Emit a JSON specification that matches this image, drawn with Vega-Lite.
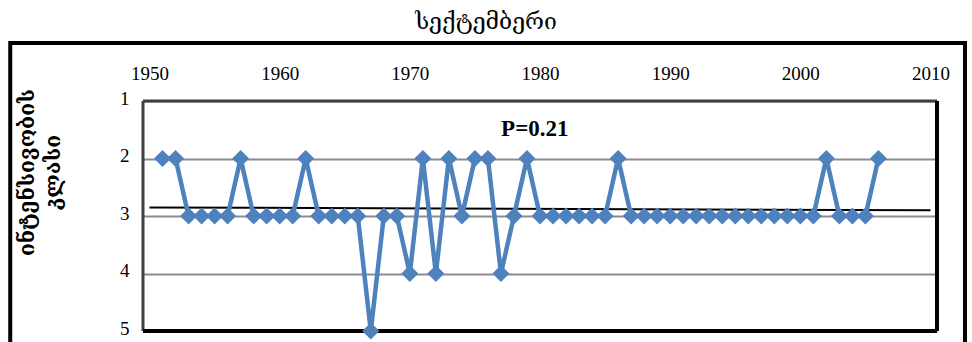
{
  "$schema": "https://vega.github.io/schema/vega-lite/v6.json",
  "width": 794,
  "height": 230,
  "autosize": {"type": "none"},
  "padding": {"left": 143, "top": 101, "right": 35, "bottom": 11},
  "background": "white",
  "title": {
    "text": "სექტემბერი",
    "font": "DejaVu Serif",
    "fontSize": 23,
    "fontWeight": "normal",
    "color": "black",
    "anchor": "middle",
    "frame": "group",
    "baseline": "alphabetic",
    "offset": 12,
    "dy": 23,
    "dx": -54
  },
  "config": {
    "view": {"stroke": null},
    "axis": {"labelColor": "black", "labelFont": "Liberation Serif", "labelFontSize": 19, "ticks": false}
  },
  "datasets": {
    "september": [
      {"year": 1951, "val": 2}, {"year": 1952, "val": 2}, {"year": 1953, "val": 3}, {"year": 1954, "val": 3},
      {"year": 1955, "val": 3}, {"year": 1956, "val": 3}, {"year": 1957, "val": 2}, {"year": 1958, "val": 3},
      {"year": 1959, "val": 3}, {"year": 1960, "val": 3}, {"year": 1961, "val": 3}, {"year": 1962, "val": 2},
      {"year": 1963, "val": 3}, {"year": 1964, "val": 3}, {"year": 1965, "val": 3}, {"year": 1966, "val": 3},
      {"year": 1967, "val": 5}, {"year": 1968, "val": 3}, {"year": 1969, "val": 3}, {"year": 1970, "val": 4},
      {"year": 1971, "val": 2}, {"year": 1972, "val": 4}, {"year": 1973, "val": 2}, {"year": 1974, "val": 3},
      {"year": 1975, "val": 2}, {"year": 1976, "val": 2}, {"year": 1977, "val": 4}, {"year": 1978, "val": 3},
      {"year": 1979, "val": 2}, {"year": 1980, "val": 3}, {"year": 1981, "val": 3}, {"year": 1982, "val": 3},
      {"year": 1983, "val": 3}, {"year": 1984, "val": 3}, {"year": 1985, "val": 3}, {"year": 1986, "val": 2},
      {"year": 1987, "val": 3}, {"year": 1988, "val": 3}, {"year": 1989, "val": 3}, {"year": 1990, "val": 3},
      {"year": 1991, "val": 3}, {"year": 1992, "val": 3}, {"year": 1993, "val": 3}, {"year": 1994, "val": 3},
      {"year": 1995, "val": 3}, {"year": 1996, "val": 3}, {"year": 1997, "val": 3}, {"year": 1998, "val": 3},
      {"year": 1999, "val": 3}, {"year": 2000, "val": 3}, {"year": 2001, "val": 3}, {"year": 2002, "val": 2},
      {"year": 2003, "val": 3}, {"year": 2004, "val": 3}, {"year": 2005, "val": 3}, {"year": 2006, "val": 2}
    ]
  },
  "layer": [
    {
      "data": {"name": "september"},
      "mark": {"type": "line", "color": "#4F81BD", "strokeWidth": 0, "opacity": 0},
      "encoding": {
        "x": {
          "field": "year",
          "type": "quantitative",
          "scale": {"domain": [1949.5, 2010.5], "nice": false, "zero": false},
          "axis": {
            "orient": "top",
            "values": [1950, 1960, 1970, 1980, 1990, 2000, 2010],
            "format": "d",
            "grid": false,
            "domain": false,
            "labelPadding": 18,
            "title": null
          }
        },
        "y": {
          "field": "val",
          "type": "quantitative",
          "scale": {"domain": [1, 5], "reverse": true, "nice": false, "zero": false},
          "axis": {
            "values": [1, 2, 3, 4, 5],
            "format": "d",
            "grid": true,
            "gridColor": "#8c8c8c",
            "gridWidth": 2,
            "domain": false,
            "labelPadding": 14,
            "labelOffset": -3,
            "title": ["ინტენსივობის", "კლასი"],
            "titleFont": "DejaVu Serif",
            "titleFontSize": 21,
            "titleFontWeight": "bold",
            "titleColor": "black",
            "titleAngle": -90,
            "titleBaseline": "top",
            "titleAlign": "center",
            "titleLineHeight": 26,
            "titleX": -127,
            "titleY": 71
          }
        }
      }
    },
    {
      "data": {"values": [{"id": 1}]},
      "mark": {"type": "rect", "fill": null, "stroke": "black", "strokeWidth": 4, "clip": false},
      "encoding": {
        "x": {"datum": 1939.3, "type": "quantitative"},
        "x2": {"datum": 2012.65},
        "y": {"datum": -0.01, "type": "quantitative"},
        "y2": {"datum": 5.4}
      }
    },
    {
      "data": {"values": [{"id": 1}]},
      "mark": {"type": "rule", "color": "#404040", "strokeWidth": 3},
      "encoding": {"y": {"datum": 1, "type": "quantitative"}}
    },
    {
      "data": {"values": [{"id": 1}]},
      "mark": {"type": "rule", "color": "#404040", "strokeWidth": 3},
      "encoding": {"x": {"datum": 1949.5, "type": "quantitative"}}
    },
    {
      "data": {"values": [{"id": 1}]},
      "mark": {"type": "rule", "color": "black", "strokeWidth": 4},
      "encoding": {"y": {"datum": 5, "type": "quantitative"}}
    },
    {
      "data": {"values": [{"id": 1}]},
      "mark": {"type": "rule", "color": "black", "strokeWidth": 4},
      "encoding": {"x": {"datum": 2010.5, "type": "quantitative"}}
    },
    {
      "data": {"name": "september"},
      "transform": [{"regression": "val", "on": "year", "extent": [1950, 2010]}],
      "mark": {"type": "line", "color": "black", "strokeWidth": 2},
      "encoding": {
        "x": {"field": "year", "type": "quantitative"},
        "y": {"field": "val", "type": "quantitative"}
      }
    },
    {
      "data": {"name": "september"},
      "mark": {
        "type": "line",
        "color": "#4F81BD",
        "strokeWidth": 4.5,
        "point": {"shape": "diamond", "size": 290, "filled": true, "color": "#4F81BD", "opacity": 1}
      },
      "encoding": {
        "x": {"field": "year", "type": "quantitative"},
        "y": {"field": "val", "type": "quantitative"}
      }
    },
    {
      "data": {"values": [{"id": 1}]},
      "mark": {"type": "text", "text": "P=0.21", "font": "Liberation Serif", "fontSize": 23, "fontWeight": "bold", "fill": "#000000"},
      "encoding": {
        "x": {"datum": 1979.6, "type": "quantitative"},
        "y": {"datum": 1.49, "type": "quantitative"}
      }
    }
  ]
}
